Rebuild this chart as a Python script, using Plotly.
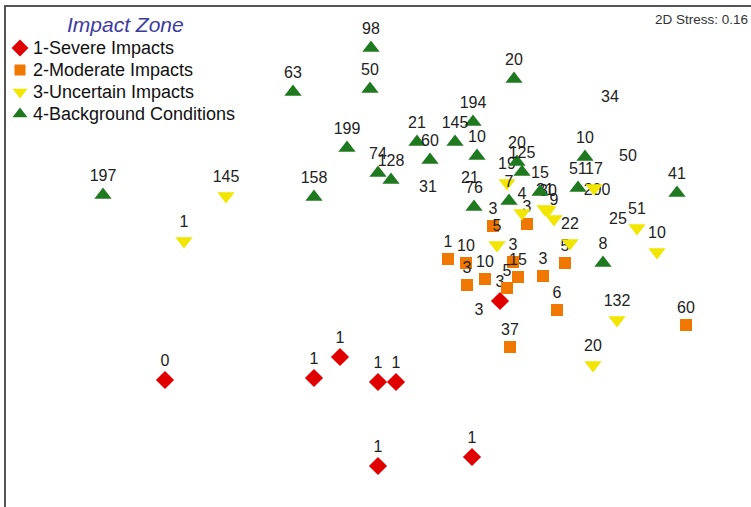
import plotly.graph_objects as go

# nMDS ordination of sites, coloured by impact zone; labels are site values
severe_x = [-2.11, -0.62, -0.36, 0.02, 0.20, 0.02, 0.96, 1.24]
severe_y = [-1.23, -1.21, -1.00, -1.25, -1.25, -2.09, -2.00, -0.44]
severe_lab = ["0", "1", "1", "1", "1", "1", "1", "3"]

moderate_x = [1.17, 1.51, 0.72, 0.90, 0.91, 1.09, 1.37, 1.42, 1.31, 1.67, 1.81, 1.34, 1.89, 3.10]
moderate_y = [0.31, 0.33, -0.02, -0.06, -0.28, -0.22, -0.05, -0.20, -0.31, -0.19, -0.53, -0.90, -0.06, -0.68]
moderate_lab = ["3", "3", "1", "10", "3", "10", "3", "15", "5", "3", "6", "37", "5", "60"]

uncertain_x = [-1.50, -1.92, 1.31, 1.46, 2.18, 1.69, 1.72, 1.78, 1.21, 1.94, 2.61, 2.81, 2.41, 2.17]
uncertain_y = [0.61, 0.16, 0.74, 0.44, 0.69, 0.48, 0.47, 0.38, 0.12, 0.14, 0.29, 0.05, -0.63, -1.08]
uncertain_lab = ["145", "1", "19", "4", "17", "21", "30", "9", "5", "22", "51", "10", "132", "20"]

background_x = [-0.05, 1.38, -0.83, -0.06, 0.97, -0.29, 0.41, 0.54, 0.79, 1.01, 0.02, 0.15,
                -0.62, -2.73, 1.41, 1.46, 1.33, 0.98, 1.64, 2.09, 2.02, 2.27, 3.01]
background_y = [2.09, 1.78, 1.65, 1.68, 1.35, 1.09, 1.15, 0.97, 1.15, 1.01, 0.84, 0.77,
                0.60, 0.62, 0.95, 0.85, 0.56, 0.50, 0.65, 1.00, 0.69, -0.06, 0.64]
background_lab = ["98", "20", "63", "50", "194", "199", "21", "60", "145", "10", "74", "128",
                  "158", "197", "20", "125", "7", "76", "15", "10", "51", "8", "41"]

# sites without a zone symbol (label only)
other_x = [2.34, 2.52, 0.52, 0.94, 2.21, 2.42, 1.03]
other_y = [1.41, 0.82, 0.51, 0.60, 0.48, 0.19, -0.72]
other_lab = ["34", "50", "31", "21", "200", "25", "3"]

zone_names = ["1-Severe Impacts", "2-Moderate Impacts", "3-Uncertain Impacts", "4-Background Conditions"]
zone_symbols = ["diamond", "square", "triangle-down", "triangle-up"]
zone_colors = ["#e00000", "#f07800", "#f2e600", "#1f7a1f"]
zone_sizes = [14, 12, 15, 15]
legend_key_sizes = [13, 11, 13, 13]

FONT = "Liberation Sans, Arial, sans-serif"
LABEL_FONT = dict(family=FONT, size=16, color="#222222")

W, H = 751, 507
ML, MT = 6, 7
PW, PH = W - ML, H - MT


def px_to_paper(px, py):
    return (px - ML) / PW, 1 - (py - MT) / PH


fig = go.Figure()

fig.add_trace(go.Scatter(
    x=other_x, y=other_y, text=other_lab, mode="markers+text",
    textposition="top center", textfont=LABEL_FONT,
    marker=dict(size=14, color="rgba(0,0,0,0)"), showlegend=False, hoverinfo="skip",
))

series = [
    (severe_x, severe_y, severe_lab),
    (moderate_x, moderate_y, moderate_lab),
    (uncertain_x, uncertain_y, uncertain_lab),
    (background_x, background_y, background_lab),
]
for (xs, ys, labs), name, sym, col, sz in zip(series, zone_names, zone_symbols, zone_colors, zone_sizes):
    fig.add_trace(go.Scatter(
        x=xs, y=ys, text=labs, mode="markers+text", name=name,
        textposition="top center", textfont=LABEL_FONT, showlegend=False,
        marker=dict(symbol=sym, size=sz, color=col, opacity=1, line=dict(width=0)),
    ))

# Hand-built key in the upper-left corner (tight row spacing)
key_x0, key_y0, key_dy = 20, 48, 22
key_pts = [px_to_paper(key_x0, key_y0 + i * key_dy) for i in range(len(zone_names))]
fig.add_trace(go.Scatter(
    x=[p[0] for p in key_pts], y=[p[1] for p in key_pts],
    xaxis="x2", yaxis="y2", mode="markers", showlegend=False, hoverinfo="skip",
    marker=dict(symbol=zone_symbols, size=legend_key_sizes, color=zone_colors,
                opacity=1, line=dict(width=0)),
))
for i, name in enumerate(zone_names):
    tx, ty = px_to_paper(31, key_y0 + i * key_dy)
    fig.add_annotation(
        x=tx, y=ty, xref="paper", yref="paper", xanchor="left", yanchor="middle",
        showarrow=False, text=name, font=dict(family=FONT, size=18, color="#111111"),
    )

tx, ty = px_to_paper(126, 24)
fig.add_annotation(
    x=tx, y=ty, xref="paper", yref="paper", xanchor="center", yanchor="middle",
    showarrow=False, text="<i>Impact Zone</i>",
    font=dict(family=FONT, size=21, color="#3c3ca0"),
)

fig.add_annotation(
    x=1, y=1, xref="paper", yref="paper", xanchor="right", yanchor="top",
    xshift=-1, yshift=-3, showarrow=False,
    text="2D Stress: 0.16", font=dict(family=FONT, size=13.5, color="#333333"),
)

fig.update_layout(
    width=W, height=H,
    margin=dict(l=ML, r=0, t=MT, b=0),
    paper_bgcolor="white", plot_bgcolor="white",
    showlegend=False,
    xaxis=dict(range=[-3.70, 3.75], showgrid=False, zeroline=False, showticklabels=False,
               ticks="", showline=True, side="top", linecolor="#555555", linewidth=2),
    yaxis=dict(range=[-2.50, 2.50], showgrid=False, zeroline=False, showticklabels=False,
               ticks="", showline=True, side="left", linecolor="#555555", linewidth=2),
    xaxis2=dict(range=[0, 1], overlaying="x", visible=False, fixedrange=True),
    yaxis2=dict(range=[0, 1], overlaying="y", visible=False, fixedrange=True),
)

fig.write_html("out.html")
